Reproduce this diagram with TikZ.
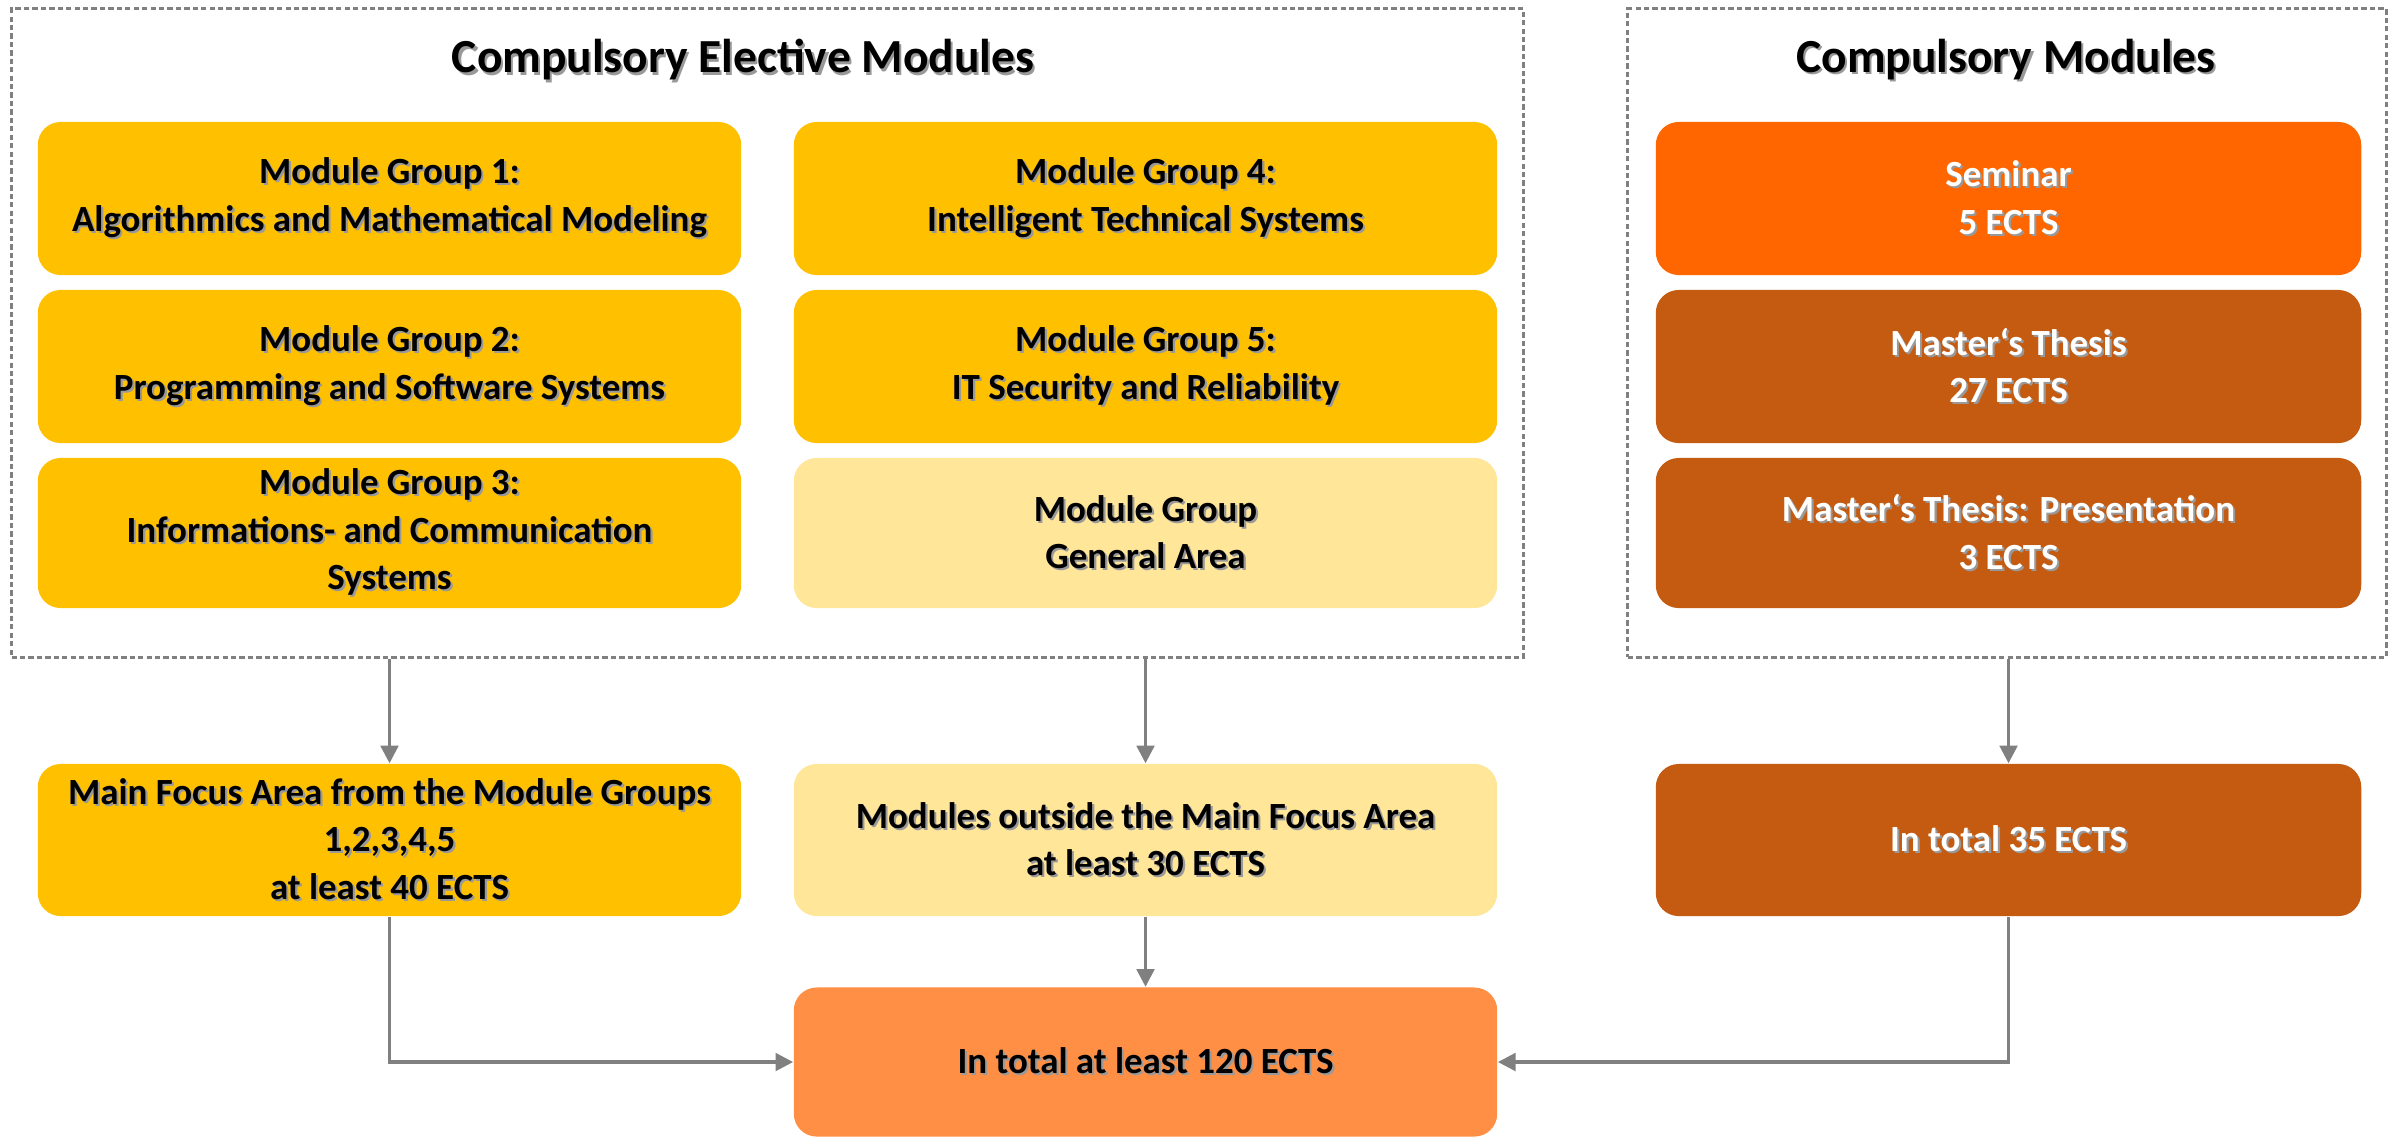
\documentclass[tikz,border=0pt]{standalone}
\usepackage{fontspec}
\setmainfont{Carlito}
\usepackage{tikz}
\usetikzlibrary{arrows.meta}

\definecolor{mgyellow}{HTML}{FFC000}
\definecolor{mglight}{HTML}{FFE699}
\definecolor{semorange}{HTML}{FF6600}
\definecolor{thesisbrown}{HTML}{C55A11}
\definecolor{totalorange}{HTML}{FF8F45}
\definecolor{linegray}{HTML}{808080}

% text with a soft drop shadow
\newcommand{\shd}[1]{\leavevmode\rlap{\kern0.6pt\raisebox{-0.6pt}{\color{black!40}#1}}#1}

\begin{document}
\begin{tikzpicture}[x=0.01cm, y=-0.01cm,
  module/.style={rectangle, rounded corners=6.5pt, minimum width=7.03cm, minimum height=1.53cm,
    align=center, font=\fontsize{10.5}{13.5}\selectfont\bfseries, inner sep=2pt},
  yellowbox/.style={module, fill=mgyellow, text=black},
  lightbox/.style={module, fill=mglight, text=black},
  brownbox/.style={module, fill=thesisbrown, text=white},
  frame/.style={rectangle, draw=linegray, line width=0.85pt, dash pattern=on 1.5pt off 0.9pt},
  heading/.style={font=\fontsize{13.5}{16}\selectfont\bfseries},
  link/.style={draw=linegray, line width=0.9pt, -{Triangle[width=5pt, length=5pt]}}]
  \useasboundingbox (0,0) rectangle (2395,1138);

  % dotted frames
  \node[frame, minimum width=15.11cm, minimum height=6.48cm] (elective) at (767.5,333) {};
  \node[frame, minimum width=7.58cm, minimum height=6.48cm] (compulsory) at (2007,333) {};
  \node[heading] (electivetitle) at (743,61) {\shd{Compulsory Elective Modules}};
  \node[heading] (compulsorytitle) at (2006,61) {\shd{Compulsory Modules}};

  % module groups
  \node[yellowbox] (mg1) at (389.5,198.5) {\shd{Module Group 1:}\\ \shd{Algorithmics and Mathematical Modeling}};
  \node[yellowbox] (mg2) at (389.5,366.5) {\shd{Module Group 2:}\\ \shd{Programming and Software Systems}};
  \node[yellowbox, minimum height=1.5cm] (mg3) at (389.5,533) {\shd{Module Group 3:}\\ \shd{Informations- and Communication}\\ \shd{Systems}};
  \node[yellowbox] (mg4) at (1145.5,198.5) {\shd{Module Group 4:}\\ \shd{Intelligent Technical Systems}};
  \node[yellowbox] (mg5) at (1145.5,366.5) {\shd{Module Group 5:}\\ \shd{IT Security and Reliability}};
  \node[lightbox, minimum height=1.5cm] (general) at (1145.5,533) {\shd{Module Group}\\ \shd{General Area}};

  % compulsory modules
  \node[brownbox, fill=semorange, minimum width=7.05cm] (seminar) at (2008.5,198.5) {\shd{Seminar}\\ \shd{5 ECTS}};
  \node[brownbox, minimum width=7.05cm] (thesis) at (2008.5,366.5) {\shd{Master‘s Thesis}\\ \shd{27 ECTS}};
  \node[brownbox, minimum width=7.05cm, minimum height=1.5cm] (presentation) at (2008.5,533) {\shd{Master‘s Thesis: Presentation}\\ \shd{3 ECTS}};

  % totals
  \node[yellowbox, minimum height=1.52cm] (focus) at (389.5,840) {\shd{Main Focus Area from the Module Groups}\\ \shd{1,2,3,4,5}\\ \shd{at least 40 ECTS}};
  \node[lightbox, minimum height=1.52cm] (outside) at (1145.5,840) {\shd{Modules outside the Main Focus Area}\\ \shd{at least 30 ECTS}};
  \node[brownbox, minimum width=7.05cm, minimum height=1.52cm] (total35) at (2008.5,840) {\shd{In total 35 ECTS}};
  \node[module, fill=totalorange, minimum height=1.49cm] (total120) at (1145.5,1062) {\shd{In total at least 120 ECTS}};

  \draw[link] (focus |- elective.south) -- (focus);
  \draw[link] (outside |- elective.south) -- (outside);
  \draw[link] (total35 |- compulsory.south) -- (total35);
  \draw[link] (outside) -- (total120);
  \draw[link] (focus.south) |- (total120.west);
  \draw[link] (total35.south) |- (total120.east);
\end{tikzpicture}
\end{document}
